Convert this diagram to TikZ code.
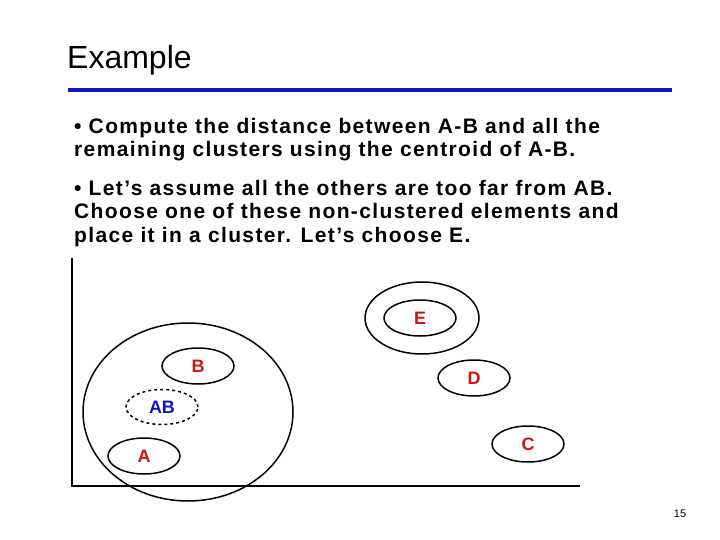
\documentclass[tikz,border=0pt]{standalone}
\usepackage{fontspec}
\setmainfont{Liberation Sans}
\usetikzlibrary{shapes.geometric}
\definecolor{lred}{RGB}{210,20,20}
\definecolor{lblue}{RGB}{20,20,200}
\begin{document}
\begin{tikzpicture}[x=1pt,y=-1pt,
  el/.style={draw,line width=1.5pt,ellipse,inner sep=0pt},
  lab/.style={font=\fontsize{18}{18}\selectfont\bfseries,text=lred},
  body/.style={anchor=north west,align=left,font=\fontsize{21}{23.5}\selectfont\bfseries\addfontfeature{LetterSpace=6.5},inner sep=0pt}]
\useasboundingbox (0,0) rectangle (720,540);
\node[anchor=west,inner sep=0pt,font=\fontsize{32}{32}\selectfont] (title) at (67,60) {Example};
\draw[lblue,line width=3.5pt] (68,90) coordinate (l1) -- (672,90) coordinate (l2);
\node[body] (t1) at (74,118) {• Compute the distance between A-B and all the\\remaining clusters using the centroid of A-B.};
\node[body] (t2) at (74,180) {• Let’s assume all the others are too far from AB.\\Choose one of these non-clustered elements and\\place it in a cluster. Let’s choose E.};
\coordinate (ax0) at (72,258); \coordinate (ax1) at (72,486); \coordinate (ax2) at (580,486);
\draw[line width=1.5pt] (ax0) -- (ax1) -- (ax2);
\draw[line width=1.5pt] (188,412) ellipse [x radius=105,y radius=89];
\node[el,minimum width=72pt,minimum height=36pt,lab] (B) at (198,366) {B};
\node[el,dashed,minimum width=72pt,minimum height=35pt,font=\fontsize{18}{18}\selectfont\bfseries,text=lblue] (AB) at (162,407) {AB};
\node[el,minimum width=72pt,minimum height=36pt,lab] (A) at (144,456) {A};
\node[el,minimum width=114pt,minimum height=72pt] (Eo) at (422,318) {};
\node[el,minimum width=72pt,minimum height=36pt,lab] (E) at (420,318) {E};
\node[el,minimum width=72pt,minimum height=36pt,lab] (D) at (474,378) {D};
\node[el,minimum width=72pt,minimum height=36pt,lab] (C) at (528,444) {C};
\node[font=\fontsize{11}{11}\selectfont] (pg) at (680,514) {15};
\end{tikzpicture}
\end{document}
